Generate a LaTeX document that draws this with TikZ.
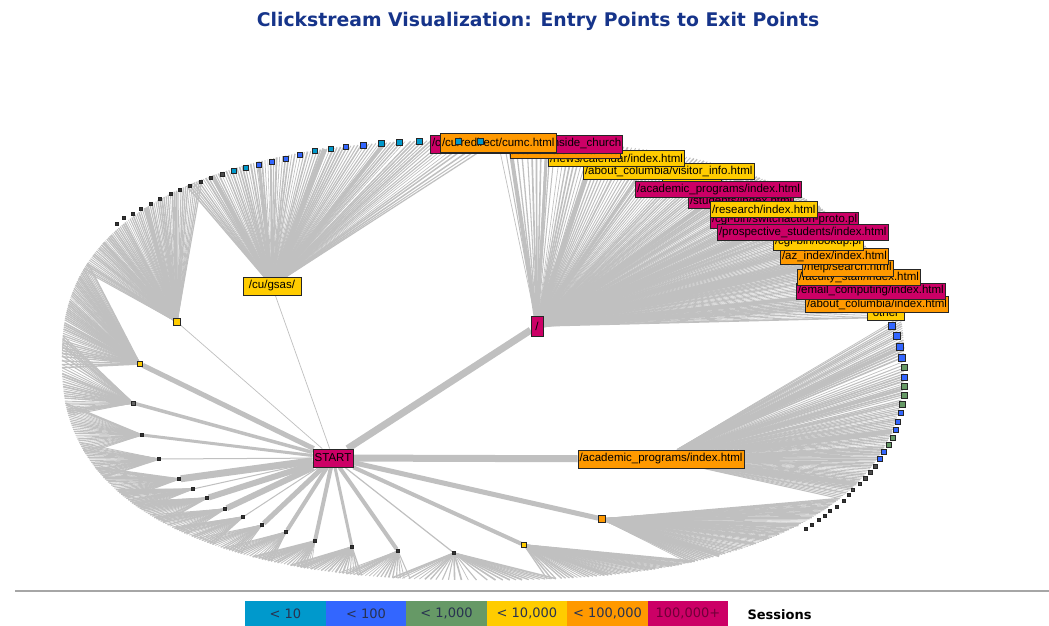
\documentclass[tikz,border=0pt]{standalone}
\usepackage{fontspec}
\setmainfont{Liberation Sans}
\newfontfamily\legendfont{DejaVu Sans}
\definecolor{linkgray}{RGB}{192,192,192}
\definecolor{cteal}{RGB}{0,153,204}
\definecolor{cblue}{RGB}{51,102,255}
\definecolor{cgreen}{RGB}{102,153,102}
\definecolor{cyellow}{RGB}{255,204,0}
\definecolor{corange}{RGB}{255,153,0}
\definecolor{cmagenta}{RGB}{204,0,102}
\definecolor{titleblue}{RGB}{22,52,138}
\definecolor{legendtext}{RGB}{40,50,80}
\pgfdeclarelayer{background}
\pgfsetlayers{background,main}

% point on the rim (a squarish ellipse) at parameter angle #1, stored as coordinate #2
\newcommand\rimpoint[2]{%
  \pgfmathsetmacro\rimC{cos(#1)}%
  \pgfmathsetmacro\rimS{sin(#1)}%
  \pgfmathsetmacro\rimX{483+421*(\rimC<0?-1:1)*pow(abs(\rimC)+0.00001,0.833)}%
  \pgfmathsetmacro\rimY{360-220*(\rimS<0?-1:1)*pow(abs(\rimS)+0.00001,0.833)}%
  \coordinate (#2) at (\rimX,\rimY);}

% fan of exit links from hub #1 to the rim between angles #2 and #3:
% #4 links, widths between 0.6 and 0.6+#5
\newcommand\exitfan[5]{%
  \foreach \k in {0,...,#4}{%
    \pgfmathsetmacro\fanT{#2+(#3-#2)*\k/#4}%
    \pgfmathsetmacro\fanW{0.6+#5*rnd}%
    \rimpoint{\fanT}{rim}%
    \draw[link,line width=\fanW pt] (#1) -- (rim);
  }}

\begin{document}
\begin{tikzpicture}[x=1pt,y=-1pt,
  link/.style={draw=linkgray},
  page/.style={draw=black!85,line width=0.8pt,inner xsep=1.6pt,inner ysep=0pt,
    minimum height=16pt,font=\fontsize{11.5}{12}\selectfont,text=black},
  stack/.style={page,anchor=west},
  leaf/.style={draw=black!85,line width=0.6pt,inner sep=0pt,minimum size=#1pt},
  legendbox/.style={minimum width=80.5pt,minimum height=25pt,inner sep=0pt,
    anchor=north west,font=\legendfont\fontsize{13}{14}\selectfont,text=legendtext}]
\pgfmathsetseed{7}
\useasboundingbox (0,0) rectangle (1049,626);

% title
\node[font=\legendfont\bfseries\fontsize{18.8}{22}\selectfont,text=titleblue]
  (title) at (538,21) {Clickstream Visualization: Entry Points to Exit Points};

% main pages
\node[page,fill=cmagenta,minimum width=40pt,minimum height=18pt,inner xsep=1pt] (start) at (333,458) {START};
\node[page,fill=cmagenta,minimum width=12pt,minimum height=20pt,inner xsep=0pt] (root) at (537,326) {/};
\node[page,fill=cyellow,minimum width=58pt,minimum height=18pt] (gsas) at (272,286) {/cu/gsas/};
\node[page,fill=corange,minimum height=18pt] (acad) at (661,459) {/academic\_programs/index.html};

% intermediate pages
\foreach \n/\x/\y/\c/\s in {1/177/322/cyellow/7, 2/140/364/cyellow/5, 3/133/403/black!60/4,
    4/142/435/black!80/3, 5/159/459/black!80/3, 6/179/479/black!80/3, 7/193/489/black!80/3,
    8/207/498/black!80/3, 9/225/509/black!80/3, 10/243/517/black!80/3, 11/262/525/black!80/3,
    12/286/532/black!80/3, 13/315/541/black!80/3, 14/352/547/black!80/3, 15/398/551/black!80/3,
    16/454/553/black!80/3, 17/524/545/cyellow/5, 18/602/519/corange/7}
  \node[leaf=\s,fill=\c] (h\n) at (\x,\y) {};

% exit pages along the upper left rim
\foreach \x/\y/\c/\s [count=\i] in {419/141/cteal/6, 399/142/cteal/6, 381/143/cteal/6,
    363/145/cblue/6, 346/147/cblue/5.5, 331/149/cteal/5.5, 315/151/cteal/5.5, 300/155/cblue/5,
    286/159/cblue/5, 272/162/cblue/5, 259/165/cblue/5, 246/168/cteal/5, 234/171/cteal/4.5,
    222/174/black!70/4, 211/178/black!80/3.5, 201/182/black!80/3.5, 190/186/black!80/3.5,
    180/190/black!80/3.5, 171/194/black!80/3, 160/199/black!80/3, 151/204/black!80/3,
    141/209/black!80/3, 133/214/black!80/3, 124/218/black!80/2.5, 117/224/black!80/2.5}
  \node[leaf=\s,fill=\c] (tl\i) at (\x,\y) {};

% exit pages along the right rim
\foreach \x/\y/\c/\s [count=\i] in {892/326/cblue/7, 897/336/cblue/7, 900/347/cblue/7,
    902/358/cblue/7, 904/367/cgreen/6, 904/377/cblue/6, 904/386/cgreen/6, 904/395/cgreen/6,
    902/404/cgreen/6, 901/413/cblue/5.5, 898/422/cblue/5, 896/430/cblue/5, 893/438/cgreen/5,
    889/445/cgreen/5, 884/452/cblue/5, 880/459/cblue/4.5, 875/466/black!70/4, 870/472/black!70/4,
    865/478/black!70/4, 860/484/black!70/3.5, 853/490/black!70/3.5, 849/495/black!80/3,
    844/501/black!80/3, 837/507/black!80/3, 830/511/black!80/3, 825/516/black!80/3,
    819/520/black!80/3, 812/525/black!80/3, 806/529/black!80/3}
  \node[leaf=\s,fill=\c] (rt\i) at (\x,\y) {};

% labelled exit pages, stacked along the upper right rim
\node[stack,fill=cyellow] (p1) at (867,312) {"other"};
\node[stack,fill=corange] (p2) at (805,304) {/about\_columbia/index.html};
\node[stack,fill=cmagenta] (p3) at (796,291) {/email\_computing/index.html};
\node[stack,fill=corange] (p4) at (797,277.5) {/faculty\_staff/index.html};
\node[stack,fill=corange] (p5) at (802,268) {/help/search.html};
\node[stack,fill=corange] (p6) at (780,256) {/az\_index/index.html};
\node[stack,fill=cyellow] (p7) at (773,242) {/cgi-bin/lookup.pl};
\node[stack,fill=cmagenta] (p9) at (710,220) {/cgi-bin/switchaction-proto.pl};
\node[stack,fill=cmagenta] (p8) at (717,232.5) {/prospective\_students/index.html};
\node[stack,fill=cmagenta] (p11) at (688,200) {/students/index.html};
\node[stack,fill=cyellow] (p10) at (710,209) {/research/index.html};
\node[stack,fill=cyellow] (p13) at (662,186) {/cu/alumni/};
\node[stack,fill=cmagenta] (p12) at (635,189.5) {/academic\_programs/index.html};
\node[stack,fill=cyellow] (p14) at (583,171) {/about\_columbia/visitor\_info.html};
\node[stack,fill=cyellow] (p15) at (548,158) {/news/calendar/index.html};
\node[stack,fill=corange] (p16) at (510,150) {/cu/news/events/vcu/};
\node[stack,fill=cmagenta,minimum height=18pt] (p17) at (430,144) {/cu/stpauls/tours/guide/inside\_church};
\node[stack,fill=corange,minimum height=19pt] (p18) at (440,142.5) {/cu/redirect/cumc.html};
\node[leaf=6,fill=cteal] (tlx1) at (458,141) {};
\node[leaf=6,fill=cteal] (tlx2) at (480,141) {};

% session links
\begin{pgfonlayer}{background}
  \fill[white] (0,0) rectangle (1049,626);
  \exitfan{root}{8}{89}{150}{1.2}
  \exitfan{gsas}{89}{131}{90}{1.2}
  \exitfan{h1}{128}{160}{70}{1.2}
  \exitfan{h2}{158}{181}{50}{1.2}
  \exitfan{h3}{176}{191}{30}{1.2}
  \exitfan{h4}{188}{201}{26}{1.2}
  \exitfan{h5}{198}{208}{20}{1.2}
  \exitfan{h6}{205}{215}{20}{1.2}
  \exitfan{h7}{212}{219}{14}{1.2}
  \exitfan{h8}{216}{224}{16}{1.2}
  \exitfan{h9}{221}{229}{16}{1.2}
  \exitfan{h10}{226}{234}{16}{1.2}
  \exitfan{h11}{231}{239}{16}{1.2}
  \exitfan{h12}{236}{244}{16}{1.2}
  \exitfan{h13}{241}{250}{18}{1.2}
  \exitfan{h14}{247}{257}{20}{1.2}
  \exitfan{h15}{254}{263}{18}{1.2}
  \exitfan{h16}{261}{277}{26}{1.2}
  \exitfan{h17}{276}{296}{40}{1.2}
  \exitfan{h18}{295}{325}{60}{1.2}
  \exitfan{acad}{325}{368}{90}{1.2}
  % heavier exit links
  \foreach \t/\w in {88/4,84/3,78/5,70/3,55/4,40/5,25/6,15/4}{%
    \rimpoint{\t}{rim}\draw[link,line width=\w pt] (root) -- (rim);}
  \foreach \t/\w in {100/4,108/5,118/3,126/4}{%
    \rimpoint{\t}{rim}\draw[link,line width=\w pt] (gsas) -- (rim);}
  \foreach \t/\w in {140/4,152/3}{%
    \rimpoint{\t}{rim}\draw[link,line width=\w pt] (h1) -- (rim);}
  \foreach \t/\w in {300/4,315/3}{%
    \rimpoint{\t}{rim}\draw[link,line width=\w pt] (h18) -- (rim);}
  \foreach \t/\w in {330/4,345/5,355/3,362/4}{%
    \rimpoint{\t}{rim}\draw[link,line width=\w pt] (acad) -- (rim);}
  % entry links from START
  \foreach \h/\w in {root/7, gsas/0.7, h1/0.7, h2/5, h3/3.5, h4/3, h5/1, h6/7, h7/1, h8/6,
      h9/6, h10/1, h11/5, h12/4, h13/4, h14/3, h15/4, h16/1.2, h17/4, h18/5, acad/7}
    \draw[link,line width=\w pt] (start) -- (\h);
\end{pgfonlayer}

% legend
\draw[gray!70,line width=1.5pt] (15,591) -- (1049,591);
\node[legendbox,fill=cteal] (lg1) at (245,601) {< 10};
\node[legendbox,fill=cblue] (lg2) at (325.5,601) {< 100};
\node[legendbox,fill=cgreen] (lg3) at (406,601) {< 1,000};
\node[legendbox,fill=cyellow] (lg4) at (486.5,601) {< 10,000};
\node[legendbox,fill=corange] (lg5) at (567,601) {< 100,000};
\node[legendbox,fill=cmagenta,text=cmagenta!55!black] (lg6) at (647.5,601) {100,000+};
\node[font=\legendfont\bfseries\fontsize{13}{14}\selectfont,anchor=west] (lgs) at (744,615) {Sessions};
\end{tikzpicture}
\end{document}
